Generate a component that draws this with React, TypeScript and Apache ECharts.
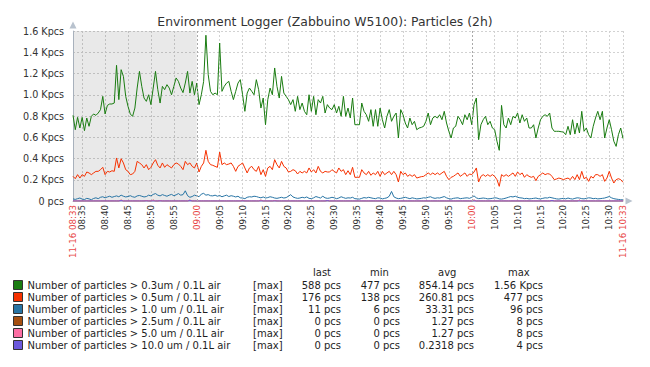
import React, { useEffect, useRef } from "react";
import * as echarts from "echarts";

const TITLE = "Environment Logger (Zabbuino W5100): Particles (2h)";
const START_LABEL = "11-16 08:33";
const END_LABEL = "11-16 10:33";
const START_MINUTE = 8 * 60 + 33;
const POINT_COUNT = 241; // one sample every 30 s, 08:33 -> 10:33

const pad = (n: number) => String(n).padStart(2, "0");
const times: string[] = [];
for (let i = 0; i < POINT_COUNT; i++) {
  const s = START_MINUTE * 60 + i * 30;
  const h = Math.floor(s / 3600);
  const m = Math.floor((s % 3600) / 60);
  times.push(`${pad(h)}:${pad(m)}${s % 60 ? ":30" : ""}`);
}

const seriesNames = [
  "Number of particles > 0.3um / 0.1L air",
  "Number of particles > 0.5um / 0.1L air",
  "Number of particles > 1.0 um / 0.1L air",
  "Number of particles > 2.5um / 0.1L air",
  "Number of particles > 5.0 um / 0.1L air",
  "Number of particles > 10.0 um / 0.1L air",
];
const seriesColors = ["#1A7C11", "#F63100", "#2774A4", "#A54F10", "#FC6EA3", "#6C59DC"];

const pm03 = [
  806, 671, 787, 687, 787, 662, 781, 703, 797, 819,
  806, 828, 860, 985, 819, 900, 913, 913, 922, 1277,
  954, 1236, 1173, 985, 891, 819, 797, 875, 1063, 1220,
  1079, 969, 938, 1000, 907, 1063, 1220, 1048, 922, 1079,
  1048, 1095, 1063, 1000, 1079, 1158, 1126, 1063, 1020, 1110,
  1220, 1016, 1126, 1000, 1110, 907, 1000, 1126, 1560, 1189,
  1032, 1000, 1016, 1000, 1487, 1032, 1079, 1110, 1126, 1032,
  954, 1032, 1110, 1142, 1000, 844, 1016, 1063, 1032, 1000,
  1142, 1048, 875, 969, 718, 954, 1063, 1000, 1252, 1079,
  969, 1173, 1016, 985, 954, 907, 954, 844, 985, 860,
  922, 844, 812, 1000, 844, 985, 812, 954, 922, 985,
  828, 907, 875, 860, 907, 828, 891, 797, 985, 797,
  875, 781, 969, 718, 718, 718, 922, 844, 812, 750,
  860, 703, 860, 703, 875, 765, 687, 797, 860, 750,
  797, 828, 593, 860, 812, 734, 687, 781, 718, 750,
  671, 687, 693, 703, 750, 828, 718, 781, 797, 781,
  812, 765, 844, 734, 656, 593, 687, 703, 797, 765,
  718, 812, 765, 828, 718, 907, 969, 577, 718, 765,
  797, 718, 750, 687, 671, 562, 477, 900, 718, 687,
  781, 718, 797, 781, 828, 734, 812, 750, 781, 687,
  687, 718, 593, 687, 765, 797, 812, 797, 828, 687,
  656, 656, 656, 652, 649, 624, 703, 624, 765, 630,
  734, 640, 844, 656, 687, 624, 593, 703, 781, 844,
  765, 844, 593, 687, 765, 671, 562, 514, 624, 687, 588,
];

const pm05 = [
  232, 210, 248, 216, 248, 232, 273, 264, 248, 264,
  279, 279, 295, 317, 248, 279, 273, 285, 279, 405,
  311, 398, 358, 295, 279, 248, 254, 279, 373, 358,
  342, 311, 342, 295, 317, 358, 389, 336, 311, 358,
  317, 342, 326, 311, 342, 358, 348, 326, 295, 373,
  342, 358, 326, 311, 358, 273, 326, 358, 477, 373,
  342, 336, 326, 317, 461, 342, 358, 342, 348, 358,
  326, 279, 326, 342, 358, 311, 264, 311, 326, 295,
  279, 326, 248, 295, 232, 311, 326, 295, 389, 342,
  311, 373, 326, 311, 273, 279, 295, 285, 254, 279,
  264, 279, 264, 311, 273, 295, 264, 326, 279, 264,
  279, 273, 273, 295, 279, 264, 311, 279, 295, 248,
  285, 248, 317, 223, 223, 223, 295, 264, 248, 279,
  242, 264, 248, 279, 232, 279, 248, 264, 279, 248,
  279, 248, 179, 279, 248, 264, 232, 248, 232, 248,
  216, 223, 229, 232, 248, 264, 248, 264, 248, 264,
  248, 264, 279, 232, 201, 223, 232, 248, 264, 232,
  248, 264, 232, 254, 248, 273, 311, 179, 232, 248,
  232, 248, 232, 248, 232, 201, 138, 248, 232, 248,
  232, 248, 264, 232, 273, 248, 264, 223, 248, 232,
  223, 232, 191, 232, 248, 264, 248, 257, 254, 232,
  201, 207, 216, 210, 201, 210, 216, 201, 232, 201,
  248, 201, 279, 210, 223, 185, 232, 216, 248, 248,
  232, 248, 185, 216, 279, 216, 169, 201, 210, 201, 176,
];

const pm10 = [
  20, 15, 22, 28, 18, 14, 25, 20, 12, 24,
  30, 22, 35, 40, 30, 38, 45, 35, 42, 48,
  40, 55, 45, 38, 42, 50, 40, 35, 48, 52,
  45, 38, 42, 55, 48, 62, 70, 55, 48, 60,
  52, 45, 55, 62, 50, 58, 70, 55, 60, 96,
  50, 35, 42, 55, 48, 40, 65, 72, 55, 60,
  50, 48, 55, 45, 52, 40, 48, 55, 42, 50,
  45, 38, 45, 30, 28, 22, 35, 40, 38, 45,
  42, 35, 30, 38, 28, 32, 40, 35, 28, 25,
  30, 35, 28, 32, 45, 60, 38, 30, 25, 28,
  35, 30, 38, 25, 22, 30, 42, 35, 28, 45,
  30, 25, 28, 35, 30, 22, 28, 40, 32, 25,
  30, 28, 35, 22, 20, 18, 25, 32, 28, 35,
  30, 25, 22, 30, 28, 20, 25, 30, 45, 90,
  40, 28, 22, 25, 30, 35, 28, 22, 30, 25,
  20, 22, 25, 30, 28, 35, 40, 30, 25, 30,
  28, 35, 42, 30, 22, 18, 25, 28, 30, 22,
  25, 28, 30, 25, 35, 48, 30, 22, 25, 28,
  25, 20, 22, 25, 30, 28, 20, 18, 22, 28,
  35, 42, 38, 45, 35, 30, 28, 22, 25, 20,
  22, 25, 28, 22, 20, 25, 30, 28, 35, 30,
  25, 20, 18, 22, 25, 20, 28, 22, 18, 25,
  30, 28, 22, 20, 25, 30, 28, 22, 25, 20,
  22, 25, 28, 35, 42, 30, 22, 18, 15, 12, 11,
];

// sparse series: [sample index, value]; every other sample reads 0
const pm25Readings: [number, number][] = [[21, 8], [32, 4], [35, 8], [38, 4], [51, 8], [74, 4], [82, 8], [88, 4], [111, 4], [175, 8], [209, 4], [221, 8]];
const pm50Readings: [number, number][] = [[21, 8], [32, 4], [35, 8], [38, 4], [51, 8], [74, 4], [82, 8], [88, 4], [111, 4], [175, 8], [209, 4], [221, 8]];
const pm100Readings: [number, number][] = [[21, 4], [51, 4], [111, 4], [209, 4]];

const fromReadings = (r: [number, number][]) => {
  const m = new Map(r);
  return times.map((_, i) => m.get(i) ?? 0);
};

const statHeaders = ["last", "min", "avg", "max"];
const statLast = ["588 pcs", "176 pcs", "11 pcs", "0 pcs", "0 pcs", "0 pcs"];
const statMin = ["477 pcs", "138 pcs", "6 pcs", "0 pcs", "0 pcs", "0 pcs"];
const statAvg = ["854.14 pcs", "260.81 pcs", "33.31 pcs", "1.27 pcs", "1.27 pcs", "0.2318 pcs"];
const statMax = ["1.56 Kpcs", "477 pcs", "96 pcs", "8 pcs", "8 pcs", "4 pcs"];
const funcLabel = "[max]";

const FONT = "DejaVu Sans";

export default function App() {
  const ref = useRef<HTMLDivElement>(null);
  useEffect(() => {
    if (!ref.current) return;
    const chart = echarts.init(ref.current, undefined, { renderer: "svg" });
    const dataSets = [pm03, pm05, pm10, fromReadings(pm25Readings), fromReadings(pm50Readings), fromReadings(pm100Readings)];
    const lastIdx = times.length - 1;
    const hourIdx = times.map((t, i) => (t.endsWith(":00") && t.length === 5 ? i : -1)).filter((i) => i >= 0);

    const rowY = [285, 297, 309, 321, 333, 345];
    const graphic: any[] = [];
    const txt = (text: string, x: number, y: number, align: string) => ({
      type: "text", x, y, silent: true,
      style: { text, fill: "#1e1e1e", fontSize: 10, fontFamily: FONT, align, verticalAlign: "middle" },
    });
    const headerX = [313, 370, 438, 508];
    statHeaders.forEach((h, k) => graphic.push(txt(h, headerX[k], 272, "left")));
    const cols: [string[], number][] = [[statLast, 341], [statMin, 400], [statAvg, 474], [statMax, 543]];
    rowY.forEach((y, r) => {
      graphic.push(txt(funcLabel, 253, y, "left"));
      cols.forEach(([arr, x]) => graphic.push(txt(arr[r], x, y, "right")));
    });

    const series: any[] = seriesNames.map((name, k) => ({
      name, type: "line", data: dataSets[k], showSymbol: false, silent: true,
      lineStyle: { width: 1, color: seriesColors[k] }, itemStyle: { color: seriesColors[k] },
      emphasis: { disabled: true },
    }));
    series[0].markArea = {
      silent: true,
      itemStyle: { color: "rgba(0,0,0,0.085)" },
      data: [[{ xAxis: times[0] }, { xAxis: "09:00" }]],
    };
    series[0].markLine = {
      silent: true, symbol: "none", label: { show: false },
      lineStyle: { color: "#a9a9a9", type: [2, 2], width: 1 },
      data: hourIdx.map((i) => ({ xAxis: times[i] })),
    };

    chart.setOption({
      animation: false,
      textStyle: { fontFamily: FONT },
      title: {
        text: TITLE, left: "center", top: 10,
        textStyle: { fontSize: 12.4, fontWeight: "normal", color: "#333", fontFamily: FONT },
      },
      grid: { left: 73, right: 27, top: 31, bottom: 166, containLabel: false },
      legend: {
        orient: "vertical", left: 13, top: 279, padding: 0, itemGap: 0,
        itemWidth: 9, itemHeight: 9, icon: "rect", selectedMode: false,
        itemStyle: { borderColor: "#333", borderWidth: 1 },
        textStyle: { fontSize: 10, lineHeight: 12, color: "#1e1e1e", fontFamily: FONT },
        data: seriesNames,
      },
      xAxis: {
        type: "category", data: times, boundaryGap: false,
        axisLine: {
          show: true, lineStyle: { color: "#b8c2ce" },
          symbol: ["none", "triangle"], symbolSize: [7, 7], symbolOffset: [0, 6],
        },
        axisTick: { show: false },
        axisLabel: {
          interval: (i: number) => i === 0 || i === lastIdx || i % 10 === 4,
          rotate: 90, margin: 4, fontSize: 8.7, color: "#333",
          formatter: (v: string, i: number) => {
            if (i === 0) return `{red|${START_LABEL}}`;
            if (i === lastIdx) return `{red|${END_LABEL}}`;
            if (v.endsWith(":00")) return `{red|${v}}`;
            return `{n|${v}}`;
          },
          rich: {
            red: { color: "#e84848", fontSize: 8.7, fontFamily: FONT },
            n: { color: "#333", fontSize: 8.7, fontFamily: FONT },
          },
        },
        splitLine: {
          show: true,
          interval: (i: number) => i % 10 === 4 || i === lastIdx,
          lineStyle: { color: "#d2d2d2", type: [2, 2], width: 1 },
        },
      },
      yAxis: {
        type: "value", min: 0, max: 1600, interval: 200,
        axisLine: {
          show: true, lineStyle: { color: "#b8c2ce" },
          symbol: ["none", "triangle"], symbolSize: [7, 7], symbolOffset: [0, 6],
        },
        axisTick: { show: false },
        axisLabel: {
          fontSize: 9.6, color: "#333", margin: 9,
          formatter: (v: number) => (v === 0 ? "0 pcs" : `${(v / 1000).toFixed(1)} Kpcs`),
        },
        splitLine: { lineStyle: { color: "#d2d2d2", type: [2, 2], width: 1 } },
      },
      graphic,
      series,
    });
    return () => chart.dispose();
  }, []);
  return <div ref={ref} style={{ position: "fixed", left: 0, top: 0, width: 650, height: 367, background: "#fff" }} />;
}
